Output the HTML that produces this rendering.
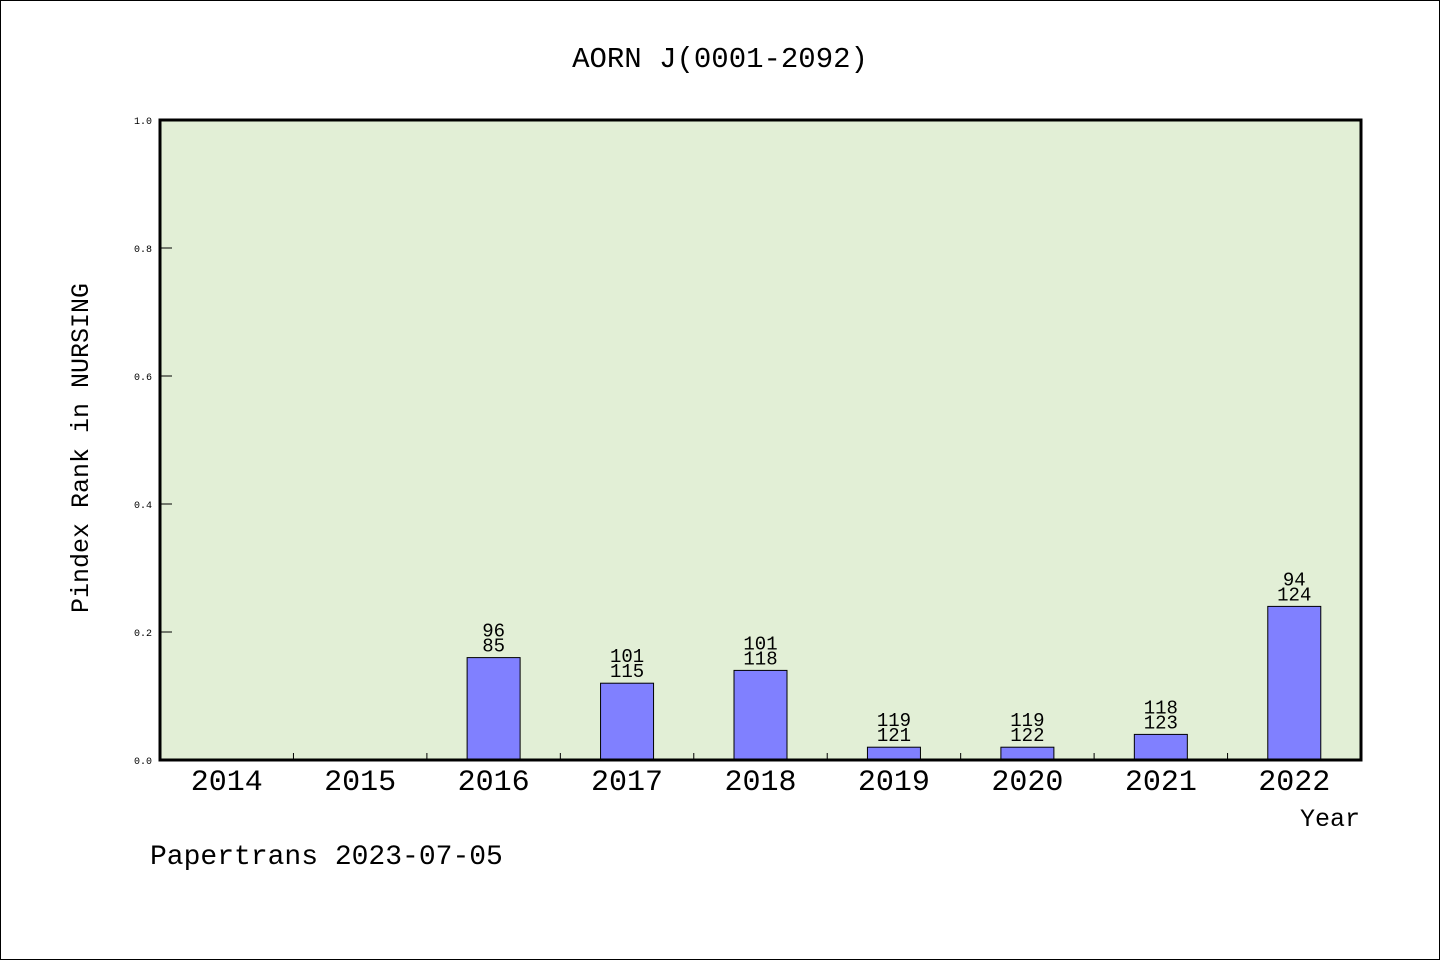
<!DOCTYPE html>
<html><head><meta charset="utf-8"><style>
html,body{margin:0;padding:0;background:#fff}
svg{display:block}
text{font-family:"Liberation Mono","WenQuanYi Zen Hei",monospace;fill:#000}
</style></head><body>
<svg id="chart" width="1440" height="960" xmlns="http://www.w3.org/2000/svg">
<rect x="0.5" y="0.5" width="1439" height="959" fill="#fff" stroke="#000"/>
<text x="720" y="67" font-size="29" text-anchor="middle">AORN J(0001-2092)</text>
<rect x="160" y="120" width="1201" height="640" fill="#e2efd6"/>
<g id="marks"></g>
<rect x="160" y="120" width="1201" height="640" fill="none" stroke="#000" stroke-width="3"/>
<text transform="translate(88,448) rotate(-90)" font-size="25" text-anchor="middle">Pindex Rank in NURSING</text>
<text x="1360" y="826" font-size="25" text-anchor="end">Year</text>
<text x="150" y="864" font-size="28">Papertrans 2023-07-05</text>
</svg>
<script>
const categories=["2014","2015","2016","2017","2018","2019","2020","2021","2022"];
const values=[0,0,0.16,0.12,0.14,0.02,0.02,0.04,0.24];
const topLabels=["","","96","101","101","119","119","118","94"];
const bottomLabels=["","","85","115","118","121","122","123","124"];
const yTicks=[0,0.2,0.4,0.6,0.8,1.0];
const yTickLabels=["0.0","0.2","0.4","0.6","0.8","1.0"];
const L=160,R=1361,T=120,B=760;
const band=(R-L)/categories.length;
const x=i=>L+band*(i+0.5);
const y=v=>B-(v/1)*(B-T);
const NS="http://www.w3.org/2000/svg";
const g=document.getElementById('marks');
function mk(tag,attrs){const e=document.createElementNS(NS,tag);for(const k in attrs)e.setAttribute(k,attrs[k]);g.appendChild(e);return e;}
yTicks.forEach((t,i)=>{
  const l=mk('line',{x1:L,x2:L+12,y1:y(t),y2:y(t),stroke:'#000','stroke-width':1});
  
  
  const tx=mk('text',{x:L-8,y:y(t)+4,'font-size':10,'text-anchor':'end'});
  tx.textContent=yTickLabels[i];
  
  
});
categories.forEach((c,i)=>{
  if(i>0){
    const l=mk('line',{x1:L+band*i,x2:L+band*i,y1:B,y2:B-7,stroke:'#000','stroke-width':1});
    
    
  }
  const tx=mk('text',{x:x(i),y:B+30,'font-size':30,'text-anchor':'middle'});
  tx.textContent=c;
  
  
  if(values[i]>0){
    const w=53;
    const r=mk('rect',{x:x(i)-w/2,y:y(values[i]),width:w,height:B-y(values[i]),fill:'#8080ff',stroke:'#000','stroke-width':1});
    
    
    const t1=mk('text',{x:x(i),y:y(values[i])-21,'font-size':19,'text-anchor':'middle'});
    t1.textContent=topLabels[i];
    
    
    const t2=mk('text',{x:x(i),y:y(values[i])-6,'font-size':19,'text-anchor':'middle'});
    t2.textContent=bottomLabels[i];
    
    
  }
});
</script>
</body></html>
